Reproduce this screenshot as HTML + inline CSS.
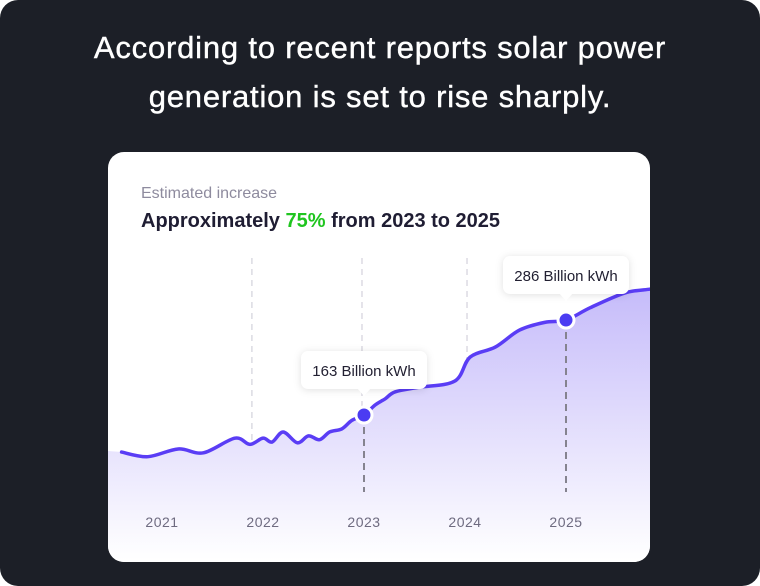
<!DOCTYPE html>
<html><head><meta charset="utf-8"><style>
html,body{margin:0;padding:0;background:#fff}
#root{position:relative;width:760px;height:586px;background:#1c1f27;border-radius:18px;overflow:hidden;font-family:"Liberation Sans",sans-serif}
#headline{position:absolute;left:0;top:23px;width:760px;text-align:center;color:#fff;font-size:31px;line-height:49px;letter-spacing:0.8px;-webkit-text-stroke:0.4px #fff}
#card{position:absolute;left:108px;top:152px;width:542px;height:410px;background:#fff;border-radius:16px;overflow:hidden}
#sub{position:absolute;left:33px;top:33px;font-size:16px;color:#8e8b9e}
#main{position:absolute;left:33px;top:58px;font-size:20px;font-weight:bold;color:#1f1d33}
#main span{color:#1fc51f}
svg{position:absolute;left:0;top:0}
</style></head><body>
<div id="root">
<div id="headline">According to recent reports solar power<br>generation is set to rise sharply.</div>
<div id="card">
<div id="sub">Estimated increase</div>
<div id="main">Approximately <span>75%</span> from 2023 to 2025</div>
</div>
<svg id="chart" width="760" height="586">
<defs>
<linearGradient id="fillg"></linearGradient>
</defs>
</svg>
</div>
<script>
const years=[2020.60,2020.86,2021.16,2021.41,2021.72,2021.87,2022.00,2022.09,2022.20,2022.34,2022.45,2022.56,2022.66,2022.78,2022.88,2023.0,2023.11,2023.21,2023.31,2023.55,2023.90,2024.05,2024.30,2024.54,2024.79,2025.0,2025.24,2025.58,2025.83,2025.9];
const values=[115,109,119,114,133,125,133,128,141,127,136,131,141,145,156,163,176,184,193,199,207,238,251,273,283,286,302,321,326,328];
const tickYears=[2021,2022,2023,2024,2025];
const tickLabels=["2021","2022","2023","2024","2025"];
const gridYears=[2021.89,2022.98,2024.02];
const callouts=[{year:2023,value:163,label:"163 Billion kWh"},{year:2025,value:286,label:"286 Billion kWh"}];

const NS="http://www.w3.org/2000/svg";
const svg=document.getElementById('chart');
const xS=y=>162+(y-2021)*101;
const yS=v=>415-(v-163)*0.772;
function mk(t,a){const e=document.createElementNS(NS,t);for(const k in a)e.setAttribute(k,a[k]);return e;}
const g=svg.querySelector('#fillg');
g.setAttribute('gradientUnits','userSpaceOnUse');
g.setAttribute('x1','0');g.setAttribute('y1','290');g.setAttribute('x2','0');g.setAttribute('y2','560');
g.appendChild(mk('stop',{offset:'0','stop-color':'#c6bcfa'}));
g.appendChild(mk('stop',{offset:'1','stop-color':'#ffffff'}));
const clip=mk('clipPath',{id:'cc'});clip.appendChild(mk('rect',{x:108,y:152,width:542,height:410,rx:16}));
svg.querySelector('defs').appendChild(clip);
const root=mk('g',{'clip-path':'url(#cc)'});svg.appendChild(root);
gridYears.forEach((ty,i)=>{
  const l=mk('line',{x1:xS(ty),x2:xS(ty),y1:258,y2:492,stroke:'#dcdbe3','stroke-width':1.5,'stroke-dasharray':'6 5'});
  
  
  root.appendChild(l);
});
const pts=years.map((y,i)=>[xS(y),yS(values[i])]);
let d='M'+pts[0][0]+','+pts[0][1];
for(let i=0;i<pts.length-1;i++){
  const p0=pts[Math.max(0,i-1)],p1=pts[i],p2=pts[i+1],p3=pts[Math.min(pts.length-1,i+2)];
  const c1=[p1[0]+(p2[0]-p0[0])/6,p1[1]+(p2[1]-p0[1])/6],c2=[p2[0]-(p3[0]-p1[0])/6,p2[1]-(p3[1]-p1[1])/6];
  d+=` C${c1[0]},${c1[1]} ${c2[0]},${c2[1]} ${p2[0]},${p2[1]}`;
}
const area=mk('path',{d:`M108,${pts[0][1]-1} L`+d.slice(1)+` L${pts[pts.length-1][0]},562 L108,562 Z`,fill:'url(#fillg)'});


root.appendChild(area);
callouts.forEach(c=>{
  const l=mk('line',{x1:xS(c.year),x2:xS(c.year),y1:yS(c.value),y2:492,stroke:'#85838f','stroke-width':2,'stroke-dasharray':'7 5'});
  
  
  root.appendChild(l);
});
const line=mk('path',{d:d,fill:'none',stroke:'#5a3df5','stroke-width':3.5,'stroke-linecap':'round'});


root.appendChild(line);
callouts.forEach(c=>{
  const cx=xS(c.year),cy=yS(c.value);
  const dot=mk('circle',{cx:cx,cy:cy,r:8,fill:'#4b3cf2',stroke:'#fff','stroke-width':3});
  
  
  root.appendChild(dot);
  const w=126,h=38,bx=cx-w/2,by=cy-64;
  const tip=mk('g',{});
  
  
  tip.appendChild(mk('rect',{x:bx,y:by,width:w,height:h,rx:7,fill:'#fff',style:'filter:drop-shadow(0 1px 4px rgba(0,0,0,0.12))'}));
  tip.appendChild(mk('path',{d:`M${cx-7},${by+h-1} L${cx},${by+h+7} L${cx+7},${by+h-1} Z`,fill:'#fff'}));
  const t=mk('text',{x:cx,y:by+25,'text-anchor':'middle','font-size':15,fill:'#222032','font-family':'Liberation Sans, sans-serif'});
  t.textContent=c.label;tip.appendChild(t);
  root.appendChild(tip);
});
tickYears.forEach((ty,i)=>{
  const t=mk('text',{x:xS(ty),y:527,'text-anchor':'middle','font-size':14,fill:'#6e6b80','font-family':'Liberation Sans, sans-serif','letter-spacing':'0.5'});
  t.textContent=tickLabels[i];
  
  
  root.appendChild(t);
});
</script>
</body></html>
